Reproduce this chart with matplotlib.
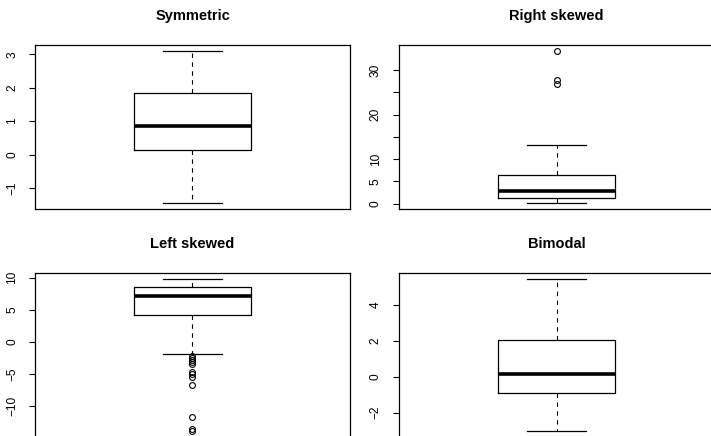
import matplotlib
matplotlib.use("Agg")
import matplotlib.pyplot as plt

plt.rcParams['font.family'] = ['Liberation Sans', 'DejaVu Sans']

titles = ["Symmetric", "Right skewed", "Left skewed", "Bimodal"]

# box statistics
q1 = [0.15, 1.26, 4.24, -0.91]
med = [0.86, 2.84, 7.20, 0.16]
q3 = [1.84, 6.37, 8.58, 2.03]
whislo = [-1.45, 0.14, -1.79, -3.03]
whishi = [3.10, 13.1, 9.83, 5.46]
fliers = [
    [],
    [34.3, 27.9, 26.8],
    [-2.2, -2.5, -2.8, -3.1, -3.4, -4.6, -5.0, -5.45, -6.65, -11.7, -13.45, -13.85],
    [],
]

yticks = [
    [-1, 0, 1, 2, 3],
    [0, 5, 10, 15, 20, 25, 30],
    [-10, -5, 0, 5, 10],
    [-2, 0, 2, 4],
]
yticklabels = [
    ["\u22121", "0", "1", "2", "3"],
    ["0", "5", "10", "", "20", "", "30"],
    ["\u221210", "\u22125", "0", "5", "10"],
    ["\u22122", "0", "2", "4"],
]

W, H = 711, 436
fig = plt.figure(figsize=(W / 100, H / 100), dpi=100)

# panel frames in pixels: left, top, width, height
frames = [
    (35, 45, 315, 164),
    (398.5, 45, 316, 164),
    (35, 272.7, 315, 164.5),
    (398.5, 272.7, 316, 164.5),
]

for i in range(4):
    l, t, w, h = frames[i]
    ax = fig.add_axes([l / W, 1 - (t + h) / H, w / W, h / H])
    stats = [{
        'med': med[i], 'q1': q1[i], 'q3': q3[i],
        'whislo': whislo[i], 'whishi': whishi[i],
        'fliers': fliers[i],
    }]
    ax.bxp(stats, positions=[1], widths=0.4, capwidths=0.2,
           showfliers=True, patch_artist=False,
           boxprops=dict(color='black', linewidth=0.9),
           medianprops=dict(color='black', linewidth=2.6, solid_capstyle='butt'),
           whiskerprops=dict(color='black', linewidth=0.8, linestyle=(0, (4, 4))),
           capprops=dict(color='black', linewidth=0.9),
           flierprops=dict(marker='o', markerfacecolor='none', markeredgecolor='black',
                           markersize=4.2, markeredgewidth=0.8, linestyle='none'))
    lo = min([whislo[i]] + fliers[i])
    hi = max([whishi[i]] + fliers[i])
    span = hi - lo
    ax.set_ylim(lo - 0.04 * span, hi + 0.04 * span)
    ax.set_xlim(0.46, 1.54)
    ax.set_xticks([])
    ax.set_yticks(yticks[i])
    ax.set_yticklabels(yticklabels[i], rotation=90, va='center', fontsize=8.6)
    ax.tick_params(axis='y', length=4.5, width=0.8, pad=7.5)
    for s in ax.spines.values():
        s.set_linewidth(0.9)
    ax.set_title(titles[i], fontsize=10.5, fontweight='bold', pad=18)

fig.savefig("out.png", dpi=100)
